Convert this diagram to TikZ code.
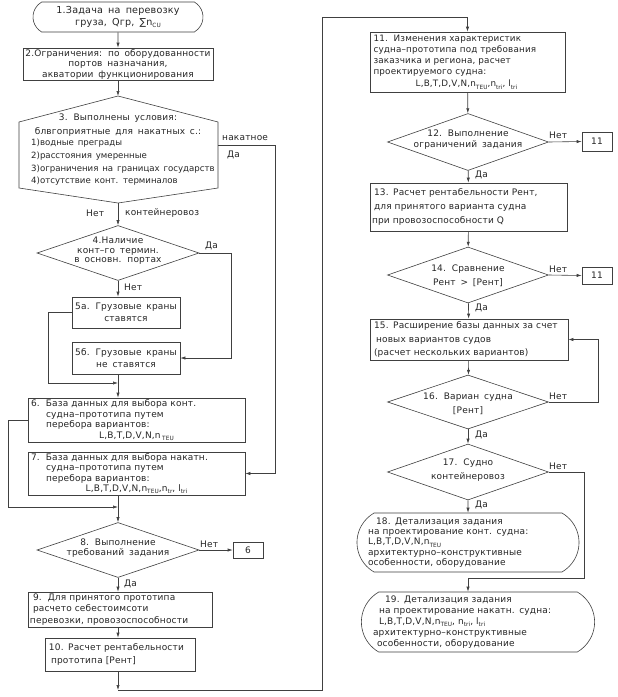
\documentclass[tikz,border=0pt]{standalone}
\usepackage{fontspec}
\setmainfont{DejaVu Sans}[WordSpace=1.6, LetterSpace=2]
\newfontfamily\tightf{DejaVu Sans}[WordSpace=1.4]
\usetikzlibrary{shapes.geometric,shapes.misc,arrows.meta}
\newcommand{\lowidx}[1]{\raisebox{-0.45ex}{\fontsize{5.8}{6}\selectfont #1}}
\tikzset{
 ln/.style={line width=0.6pt, draw=black!75},
 arr/.style={ln, -{Latex[length=5pt,width=3.2pt]}},
 pbox/.style={ln, draw, rectangle, inner sep=0pt},
 term/.style={ln, draw, rounded rectangle, rounded rectangle arc length=120, inner sep=0pt},
 dia/.style={ln, draw, diamond, inner sep=0pt},
 txt/.style={font=\fontsize{9}{10.5}\selectfont, inner sep=0pt, text=black!85},
 lbl/.style={font=\fontsize{9}{10}\selectfont, inner sep=0pt, text=black!85, anchor=west},
}
\begin{document}
\begin{tikzpicture}[x=1pt,y=-1pt]
\useasboundingbox (0,0) rectangle (618,697);
\fill[white] (0,0) rectangle (618,697);

% ---------- left column ----------
\node[term, txt, align=center, font=\fontsize{9.6}{12}\selectfont, minimum width=170pt, minimum height=30pt] (b1) at (118,17)
  {1.Задача на перевозку\\груза, Qгр, ∑n\lowidx{CU}};
\node[pbox, txt, align=center, minimum width=190pt, minimum height=32pt] (b2) at (118,64)
  {2.Ограничения: по оборудованности\\портов назначания,\\акватории функционирования};

\draw[ln] (118,96) coordinate (h3top) -- (218,122) -- (218,188) -- (118,203) coordinate (h3bot)
  -- (19,188) -- (19,122) -- cycle;
\coordinate (h3r) at (218,145);
\node[txt, align=center, font=\fontsize{9}{13.5}\selectfont] (h3a) at (118,125)
  {3. Выполнены условия:\\блвгоприятные для накатных с.:};
\node[txt, align=left, anchor=north west, font=\tightf\fontsize{8.6}{12.7}\selectfont] (h3l) at (31,139)
  {1)водные преграды\\2)расстояния умеренные\\3)ограничения на границах государств\\4)отсутствие конт. терминалов};

\node[dia, minimum width=162pt, minimum height=55pt] (d4) at (118,253) {};
\node[txt, align=center, font=\fontsize{9}{9.6}\selectfont] (d4t) at (118,251)
  {4.Наличие\\конт–го термин.\\в основн. портах};

\node[pbox, txt, align=center, font=\fontsize{9}{12}\selectfont, minimum width=108pt, minimum height=31pt] (b5a) at (126,312.5)
  {5а. Грузовые краны\\ставятся};
\node[pbox, txt, align=center, font=\fontsize{9}{12}\selectfont, minimum width=108pt, minimum height=32pt] (b5b) at (126,358)
  {5б. Грузовые краны\\не ставятся};

\node[pbox, txt, text width=211pt, align=left, minimum width=217pt, minimum height=44pt] (b6) at (136.5,420)
  {6.\ \ База данных для выбора конт.\\\hspace*{15pt}судна–прототипа путем\\\hspace*{15pt}перебора вариантов:\\\makebox[211pt]{L,B,T,D,V,N,n\,\lowidx{TEU}}};
\node[pbox, txt, text width=211pt, align=left, minimum width=217pt, minimum height=43pt] (b7) at (136.5,473.5)
  {7.\ \ База данных для выбора накатн.\\\hspace*{15pt}судна–прототипа путем\\\hspace*{15pt}перебора вариантов:\\\makebox[211pt]{L,B,T,D,V,N,n\lowidx{TEU},n\lowidx{tr}, l\lowidx{tri}}};

\node[dia, minimum width=162pt, minimum height=55pt] (d8) at (118,550) {};
\node[txt, align=center, font=\fontsize{9}{10}\selectfont] (d8t) at (118,548)
  {8. Выполнение\\требований задания};
\node[pbox, txt, minimum width=30pt, minimum height=16pt] (b6r) at (248,550) {6};

\node[pbox, txt, text width=180pt, align=left, font=\fontsize{9}{11.5}\selectfont, minimum width=184pt, minimum height=35pt] (b9) at (120,609.5)
  {\leftskip=3pt 9.\ \ Для принятого прототипа\\расчето себестоимсоти\\перевозки, провозоспособности};
\node[pbox, txt, text width=144pt, align=left, font=\fontsize{9}{13}\selectfont, minimum width=150pt, minimum height=33pt] (b10) at (120,654.5)
  {\leftskip=1pt 10. Расчет рентабельности\\\hspace*{3pt}прототипа [Рент]};

% ---------- right column ----------
\node[pbox, txt, text width=192pt, align=left, font=\fontsize{8.8}{11}\selectfont, minimum width=195pt, minimum height=60pt] (b11) at (467.5,62)
  {\leftskip=2pt 11.\ \ Изменения характеристик\\судна–прототипа под требования\\заказчика и региона, расчет\\проектируемого судна:\\[1.5pt]\makebox[190pt]{L,B,T,D,V,N,n\lowidx{TEU},n\lowidx{tri}, l\lowidx{tri}}};

\node[dia, minimum width=161pt, minimum height=57pt] (d12) at (468,142) {};
\node[txt, align=center, font=\fontsize{9}{11}\selectfont] (d12t) at (468,140)
  {12. Выполнение\\ограничений задания};
\node[pbox, txt, minimum width=30pt, minimum height=19pt] (b11r) at (597,141.5) {11};

\node[pbox, txt, text width=193pt, align=left, font=\fontsize{9}{14}\selectfont, minimum width=197pt, minimum height=48pt] (b13) at (468.5,207)
  {\leftskip=2pt 13. Расчет рентабельности Рент,\\для принятого варианта судна\\при провозоспособности Q};

\node[dia, minimum width=161pt, minimum height=56pt] (d14) at (468,275) {};
\node[txt, align=center, font=\fontsize{9}{14}\selectfont] (d14t) at (468,276)
  {14. Сравнение\\Рент > [Рент]};
\node[pbox, txt, minimum width=30pt, minimum height=17pt] (b11s) at (597,275.5) {11};

\node[pbox, txt, text width=194pt, align=left, font=\fontsize{9}{13.5}\selectfont, minimum width=198pt, minimum height=41pt] (b15) at (469,339.5)
  {\leftskip=2pt 15. Расширение базы данных за счет\\\hspace*{2pt}новых вариантов судов\\\hspace*{2pt}(расчет нескольких вариантов)};

\node[dia, minimum width=161pt, minimum height=54pt] (d16) at (468,402) {};
\node[txt, align=center, font=\fontsize{9}{14}\selectfont] (d16t) at (468,404)
  {16. Вариан судна\\{[Рент]}};

\node[dia, minimum width=161pt, minimum height=56pt] (d17) at (468,472) {};
\node[txt, align=center, font=\fontsize{9}{14}\selectfont] (d17t) at (468,470)
  {17. Судно\\контейнеровоз};

\node[term, txt, text width=200pt, align=left, font=\fontsize{9}{10.4}\selectfont, minimum width=210pt, minimum height=59pt] (b18) at (468,542.5)
  {\hspace*{8pt}18. Детализация задания\\на проектирование конт. судна:\\L,B,T,D,V,N,n\lowidx{TEU}\\архитектурно–конструктивные\\особенности, оборудование};
\node[term, txt, text width=210pt, align=left, font=\fontsize{9}{10.8}\selectfont, minimum width=220pt, minimum height=60pt] (b19) at (478,622)
  {\hspace*{12pt}19. Детализация задания\\\hspace*{6pt}на проектирование накатн. судна:\\\hspace*{6pt}L,B,T,D,V,N,n\lowidx{TEU}, n\lowidx{tri}, l\lowidx{tri}\\архитектурно–конструктивные\\\hspace*{4pt}особенности, оборудование};

% ---------- helper coordinates ----------
\coordinate (rx3) at (275,145);
\coordinate (r4) at (231,253);
\coordinate (x48) at (48,0);
\coordinate (j5) at (118,383);
\coordinate (x8) at (8,0);
\coordinate (j7) at (118,507);
\coordinate (c10) at (118,690);
\coordinate (cBR) at (322,690);
\coordinate (cTL) at (322,17);
\coordinate (r16) at (598,402);
\coordinate (r17) at (584,472);
\coordinate (j19) at (468,578);

% ---------- connectors ----------
\draw[arr] (b1) -- (b2);
\draw[arr] (b2) -- (h3top);
\draw[arr] (h3bot) -- (d4.north);
\draw[arr] (h3r) -- (rx3) |- (b7.east);
\draw[arr] (d4.east) -- (r4) |- (b5b.east);
\draw[arr] (d4.south) -- (d4.south |- b5a.north);
\draw[arr] (b5a.west) -| (x48 |- j5) -- (j5);
\draw[arr] (j5 |- b5b.south) -- (j5 |- b6.north);
\draw[arr] (b6.west) -| (x8 |- j7) -- (j7);
\draw[arr] (j7 |- b7.south) -- (d8.north);
\draw[arr] (d8.east) -- (b6r.west);
\draw[arr] (d8.south) -- (d8.south |- b9.north);
\draw[arr] (d8.south |- b9.south) -- (d8.south |- b10.north);
\draw[arr] (d8.south |- b10.south) -- (c10);
\draw[arr] (c10) -- (cBR) -- (cTL) -| (b11.north);
\draw[arr] (b11) -- (d12);
\draw[arr] (d12.east) -- (b11r.west);
\draw[arr] (d12) -- (b13);
\draw[arr] (b13) -- (d14);
\draw[arr] (d14.east) -- (b11s.west);
\draw[arr] (d14) -- (b15);
\draw[arr] (b15) -- (d16);
\draw[arr] (d16.east) -- (r16) |- (b15.east);
\draw[arr] (d16) -- (d17);
\draw[arr] (d17) -- (b18);
\draw[arr] (d17.east) -- (r17) |- (j19) -- (j19 |- b19.north);

% ---------- labels ----------
\node[lbl] (l3n) at (86,213) {Нет};
\node[lbl] (l3k) at (125,213) {контейнеровоз};
\node[lbl] (l3r) at (222,138) {накатное};
\node[lbl] (l3d) at (227,155) {Да};
\node[lbl] (l4d) at (205,246) {Да};
\node[lbl] (l4n) at (124,287) {Нет};
\node[lbl] (l8n) at (200,544) {Нет};
\node[lbl] (l8d) at (124,584) {Да};
\node[lbl] (l12n) at (549,135) {Нет};
\node[lbl] (l12d) at (475,175) {Да};
\node[lbl] (l14n) at (549,269) {Нет};
\node[lbl] (l14d) at (475,308) {Да};
\node[lbl] (l16n) at (549,396) {Нет};
\node[lbl] (l16d) at (475,435) {Да};
\node[lbl] (l17n) at (549,466) {Нет};
\node[lbl] (l17d) at (475,505) {Да};
\end{tikzpicture}
\end{document}
